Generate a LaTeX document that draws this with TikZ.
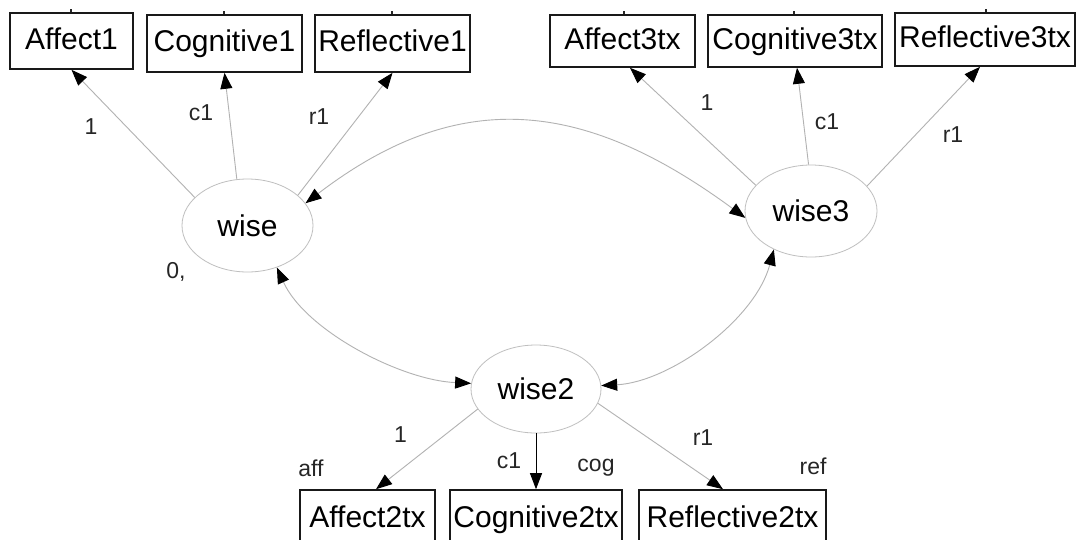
\documentclass[tikz,border=0pt]{standalone}
\usepackage{fontspec}
\setmainfont{Liberation Sans}
\usetikzlibrary{shapes.geometric,arrows.meta}

\tikzset{
  obsbox/.style={draw=black!90, line width=1.6pt, rectangle, inner sep=0pt,
    minimum height=#1, text height=22pt, text depth=6pt,
    font=\fontsize{30}{30}\selectfont},
  obsbox/.default=57pt,
  latent/.style={draw=gray!50, line width=0.8pt, ellipse, inner sep=0pt,
    font=\fontsize{30}{30}\selectfont},
  lbl/.style={inner sep=0pt, font=\fontsize{23}{23}\selectfont, text=black!85},
  path/.style={draw=gray!60, line width=0.9pt, ->},
  cov/.style={draw=gray!60, line width=0.9pt, <->},
  tick/.style={draw=black!85, line width=1.2pt}
}

\begin{document}
\begin{tikzpicture}[x=1pt, y=-1pt,
  >={Triangle[length=16pt, width=12pt, color=black]}]
\useasboundingbox (0,0) rectangle (1078,539);
\fill[white] (0,0) rectangle (1078,539);
\clip (0,0) rectangle (1078,539);

% latent variables
\node[latent, minimum width=131pt, minimum height=93pt] (wise)  at (247.5,225.5) {wise};
\node[latent, minimum width=132pt, minimum height=92pt] (wise3) at (811,211) {wise3};
\node[latent, minimum width=130pt, minimum height=88pt] (wise2) at (536,389) {wise2};

% indicators of wise
\node[obsbox=56pt, minimum width=123pt] (aff1) at (71.5,41) {Affect1};
\node[obsbox, minimum width=155pt] (cog1) at (224.5,43.5) {Cognitive1};
\node[obsbox, minimum width=155pt] (ref1) at (392.5,43.5) {Reflective1};

% indicators of wise3
\node[obsbox=52pt, minimum width=145pt] (aff3) at (622.5,41) {Affect3tx};
\node[obsbox=52pt, minimum width=174pt] (cog3) at (795,41) {Cognitive3tx};
\node[obsbox=53pt, minimum width=180pt] (ref3) at (985,39.5) {Reflective3tx};

% indicators of wise2
\node[obsbox=58pt, minimum width=135pt] (aff2) at (367.5,519) {Affect2tx};
\node[obsbox=58pt, minimum width=172pt] (cog2) at (536,519) {Cognitive2tx};
\node[obsbox=58pt, minimum width=187pt] (ref2) at (732.5,519) {Reflective2tx};

% stubs of the error paths above the top row
\draw[tick] ([xshift=-0.5pt]aff1.north) -- ++(0,-3);
\draw[tick] ([xshift=-0.5pt]cog1.north) -- ++(0,-3);
\draw[tick] ([xshift=-0.5pt]ref1.north) -- ++(0,-3);
\draw[tick] ([xshift=1.5pt]aff3.north) -- ++(0,-3);
\draw[tick] ([xshift=-1pt]cog3.north) -- ++(0,-3);
\draw[tick] ([xshift=1pt]ref3.north) -- ++(0,-3);

% loadings
\draw[path] (wise.152.8) -- (aff1.south);
\draw[path] (wise.103) -- (cog1.south);
\draw[path] (wise.31.6) -- (ref1.south);

\draw[path] (wise3.155.1) -- ([xshift=7.5pt]aff3.south);
\draw[path] (wise3.93.7) -- ([xshift=2pt]cog3.south);
\draw[path] (wise3.24.9) -- ([xshift=-5pt]ref3.south);

\draw[path] (wise2.199) -- ([xshift=8.5pt]aff2.north);
\draw[path, draw=black] (wise2.south) -- (cog2.north);
\draw[path] (wise2.-13.6) -- ([xshift=-9.5pt]ref2.north);

% covariances
\draw[cov] (wise.21.4) .. controls (460,85) and (585,100) .. (wise3.186.2);
\draw[cov] (wise.-55.2) .. controls (305,330) and (400,380) .. (wise2.175.7);
\draw[cov] (wise3.226.4) .. controls (755,320) and (670,382) .. (wise2.3.5);

% path labels
\node[lbl] (la1) at (91,127) {1};
\node[lbl] (lc1) at (201,113) {c1};
\node[lbl] (lr1) at (319,117) {r1};
\node[lbl] (lzero) at (176,272) {0,};

\node[lbl] (la3) at (707,103) {1};
\node[lbl] (lc3) at (827,122) {c1};
\node[lbl] (lr3) at (953,135) {r1};

\node[lbl] (la2) at (400.5,435) {1};
\node[lbl] (laff) at (311,468) {aff};
\node[lbl] (lc2) at (509,461) {c1};
\node[lbl] (lcog) at (596,468) {cog};
\node[lbl] (lr2) at (703,438) {r1};
\node[lbl] (lref) at (813,466) {ref};
\end{tikzpicture}
\end{document}
